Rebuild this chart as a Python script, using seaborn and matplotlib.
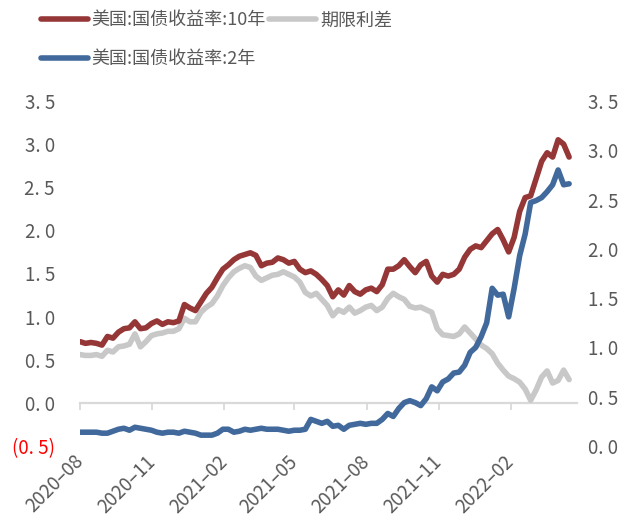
import numpy as np
import pandas as pd
import matplotlib
matplotlib.use("Agg")
import matplotlib.pyplot as plt
import matplotlib.dates as mdates
import seaborn as sns

# Weekly observations starting from the first week of August 2020
start_date = "2020-08-01"

ust10y = [0.71, 0.69, 0.70, 0.69, 0.67, 0.77, 0.75, 0.82, 0.86, 0.87,
          0.94, 0.86, 0.87, 0.92, 0.95, 0.91, 0.94, 0.93, 0.95, 1.14,
          1.10, 1.07, 1.17, 1.27, 1.34, 1.45, 1.55, 1.60, 1.66, 1.70,
          1.72, 1.74, 1.71, 1.59, 1.62, 1.63, 1.68, 1.66, 1.62, 1.64,
          1.55, 1.51, 1.53, 1.49, 1.43, 1.36, 1.23, 1.31, 1.25, 1.36,
          1.29, 1.26, 1.31, 1.33, 1.29, 1.37, 1.55, 1.55, 1.59, 1.66,
          1.58, 1.51, 1.60, 1.64, 1.47, 1.40, 1.49, 1.47, 1.49, 1.55,
          1.69, 1.78, 1.82, 1.80, 1.88, 1.96, 2.01, 1.89, 1.75, 1.92,
          2.22, 2.38, 2.40, 2.60, 2.80, 2.90, 2.85, 3.05, 3.00, 2.85]

term_spread = [0.56, 0.55, 0.55, 0.56, 0.54, 0.61, 0.59, 0.65, 0.66, 0.68,
               0.80, 0.65, 0.71, 0.78, 0.80, 0.81, 0.83, 0.83, 0.86, 0.98,
               0.94, 0.94, 1.05, 1.11, 1.15, 1.24, 1.36, 1.45, 1.52, 1.56,
               1.59, 1.57, 1.47, 1.42, 1.45, 1.48, 1.49, 1.52, 1.49, 1.46,
               1.40, 1.28, 1.24, 1.27, 1.20, 1.13, 1.01, 1.08, 1.05, 1.11,
               1.04, 1.07, 1.11, 1.13, 1.07, 1.11, 1.21, 1.27, 1.23, 1.20,
               1.12, 1.10, 1.11, 1.08, 1.05, 0.86, 0.79, 0.78, 0.77, 0.80,
               0.88, 0.81, 0.74, 0.67, 0.63, 0.57, 0.46, 0.38, 0.31, 0.28,
               0.24, 0.16, 0.03, 0.15, 0.30, 0.37, 0.23, 0.26, 0.38, 0.27]

ust2y = [0.14, 0.14, 0.14, 0.14, 0.13, 0.13, 0.15, 0.17, 0.18, 0.16,
         0.19, 0.18, 0.17, 0.16, 0.14, 0.13, 0.14, 0.14, 0.13, 0.15,
         0.14, 0.13, 0.11, 0.11, 0.11, 0.13, 0.17, 0.17, 0.14, 0.15,
         0.17, 0.16, 0.17, 0.18, 0.17, 0.17, 0.17, 0.16, 0.15, 0.16,
         0.16, 0.17, 0.27, 0.25, 0.23, 0.25, 0.20, 0.21, 0.17, 0.21,
         0.22, 0.23, 0.22, 0.23, 0.23, 0.27, 0.33, 0.30, 0.38, 0.44,
         0.46, 0.44, 0.41, 0.48, 0.60, 0.56, 0.65, 0.68, 0.74, 0.75,
         0.82, 0.95, 1.00, 1.11, 1.25, 1.60, 1.53, 1.54, 1.31, 1.60,
         1.93, 2.15, 2.47, 2.49, 2.52, 2.58, 2.65, 2.80, 2.65, 2.66]

label_10y = "美国:国债收益率:10年"
label_2y = "美国:国债收益率:2年"
label_spread = "期限利差"

left_ticks = [-0.5, 0.0, 0.5, 1.0, 1.5, 2.0, 2.5, 3.0, 3.5]
right_ticks = [0.0, 0.5, 1.0, 1.5, 2.0, 2.5, 3.0, 3.5]

dates = pd.date_range(start_date, periods=len(ust10y), freq="7D")
df = pd.DataFrame({"date": dates, label_10y: ust10y,
                   label_spread: term_spread, label_2y: ust2y})

sns.set_theme(style="white")
plt.rcParams["font.family"] = ["Noto Sans CJK SC", "DejaVu Sans"]
plt.rcParams["axes.unicode_minus"] = False

RED = "#963737"
BLUE = "#41699B"
GREY = "#C8C8C8"
TXT = "#595959"
AXIS = "#D9D9D9"
LW = 4.0

fig = plt.figure(figsize=(6.21, 5.20), dpi=100)
ax = fig.add_axes([0.1288, 0.1423, 0.8003, 0.6635])
ax2 = ax.twinx()

sns.lineplot(data=df, x="date", y=label_spread, ax=ax, color=GREY, lw=LW, legend=False)
sns.lineplot(data=df, x="date", y=label_10y, ax=ax, color=RED, lw=LW, legend=False)
sns.lineplot(data=df, x="date", y=label_2y, ax=ax2, color=BLUE, lw=LW, legend=False)

for a in (ax, ax2):
    a.set_xlabel("")
    a.set_ylabel("")
    for s in a.spines.values():
        s.set_visible(False)

# x range and date ticks
ax.set_xlim(pd.Timestamp("2020-08-01"), pd.Timestamp("2022-04-26"))
ax.xaxis.set_major_locator(mdates.MonthLocator(bymonth=[2, 5, 8, 11]))
ax.xaxis.set_major_formatter(mdates.DateFormatter("%Y–%m"))
ax.tick_params(axis="x", length=0, pad=9, labelsize=13.5, labelcolor=TXT)
for lbl in ax.get_xticklabels():
    lbl.set_rotation(45)
    lbl.set_ha("right")
    lbl.set_va("center")
    lbl.set_rotation_mode("anchor")

# visible axis line at zero on the left scale
ax.set_ylim(left_ticks[0], left_ticks[-1])
zero_pos = (0 - left_ticks[0]) / (left_ticks[-1] - left_ticks[0])
sec = ax.secondary_xaxis(zero_pos)
sec.xaxis.set_major_locator(mdates.MonthLocator(bymonth=[2, 5, 8, 11]))
sec.tick_params(axis="x", direction="out", length=5, width=1.3, color=AXIS, labelbottom=False)
for name, s in sec.spines.items():
    s.set_visible(name == "bottom")
sec.spines["bottom"].set_color(AXIS)
sec.spines["bottom"].set_linewidth(1.6)


def fmt(v):
    s = f"{abs(v):.1f}".replace(".", ". ")
    return f"({s})" if v < 0 else s


ax.set_yticks(left_ticks, [fmt(v) for v in left_ticks])
ax.tick_params(axis="y", length=0, pad=18, labelsize=13.5, labelcolor=TXT)
for v, lbl in zip(left_ticks, ax.get_yticklabels()):
    if v < 0:
        lbl.set_color("red")

ax2.set_ylim(right_ticks[0], right_ticks[-1])
ax2.set_yticks(right_ticks, [fmt(v) for v in right_ticks])
ax2.tick_params(axis="y", length=0, pad=8, labelsize=13.5, labelcolor=TXT)

handles = [ax.lines[1], ax2.lines[0], ax.lines[0]]
labels = [label_10y, label_2y, label_spread]
fig.legend(handles, labels, ncol=2, loc="upper left", bbox_to_anchor=(0.066, 0.978),
           frameon=False, fontsize=13, labelcolor=TXT, handlelength=2.6,
           handletextpad=0.2, columnspacing=0.2, labelspacing=1.15,
           borderpad=0, borderaxespad=0)

fig.savefig("out.png", dpi=100)
